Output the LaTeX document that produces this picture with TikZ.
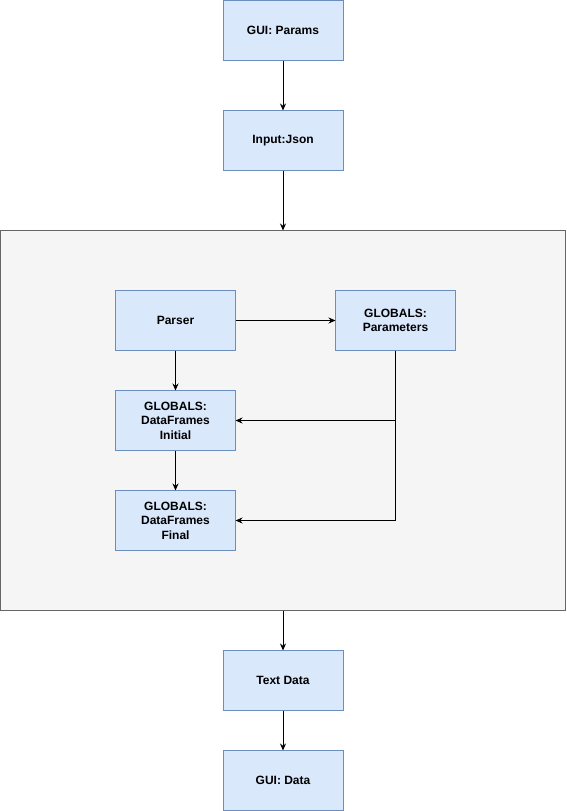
\documentclass[tikz,border=0pt]{standalone}
\usepackage{fontspec}
\setmainfont{Liberation Sans}
\usetikzlibrary{arrows.meta,positioning}
\definecolor{boxfill}{HTML}{DAE8FC}
\definecolor{boxline}{HTML}{6C8EBF}
\definecolor{groupfill}{HTML}{F5F5F5}
\definecolor{groupline}{HTML}{666666}

\begin{document}
\begin{tikzpicture}[x=1pt,y=-1pt,line width=1pt,
		block/.style={draw=boxline,fill=boxfill,minimum width=120pt,minimum height=60pt,inner sep=0pt,outer sep=0pt,align=center,font=\bfseries\fontsize{12}{14.5}\selectfont},
		node distance=50pt]
		\useasboundingbox (0,0) rectangle (566,811);
		\node[draw=groupline,fill=groupfill,minimum width=565pt,minimum height=380pt,inner sep=0pt,outer sep=0pt] (group) at (283,420.5) {};
		\node[block] (guiparams) at (283,30.5) {GUI: Params};
		\node[block] (json) [below=of guiparams] {Input:Json};
		\node[block] (parser) at (175.5,320.5) {Parser};
		\node[block] (params) [right=100pt of parser] {GLOBALS:\\Parameters};
		\node[block] (initial) [below=40pt of parser] {GLOBALS:\\DataFrames\\Initial};
		\node[block] (final) [below=40pt of initial] {GLOBALS:\\DataFrames\\Final};
		\node[block] (textdata) at (283,680.5) {Text Data};
		\node[block] (guidata) [below=40pt of textdata] {GUI: Data};
		\draw[->,>={Stealth[length=7pt,width=6pt]}] (guiparams) -- (json);
		\draw[->,>={Stealth[length=7pt,width=6pt]}] (json) -- (group.north);
		\draw[->,>={Stealth[length=7pt,width=6pt]}] (parser) -- (params);
		\draw[->,>={Stealth[length=7pt,width=6pt]}] (parser) -- (initial);
		\draw[->,>={Stealth[length=7pt,width=6pt]}] (initial) -- (final);
		\draw[->,>={Stealth[length=7pt,width=6pt]}] (params.south) |- (initial.east);
		\draw[->,>={Stealth[length=7pt,width=6pt]}] (params.south) |- (final.east);
		\draw[->,>={Stealth[length=7pt,width=6pt]}] (group.south) -- (textdata);
		\draw[->,>={Stealth[length=7pt,width=6pt]}] (textdata) -- (guidata);
	\end{tikzpicture}
\end{document}
